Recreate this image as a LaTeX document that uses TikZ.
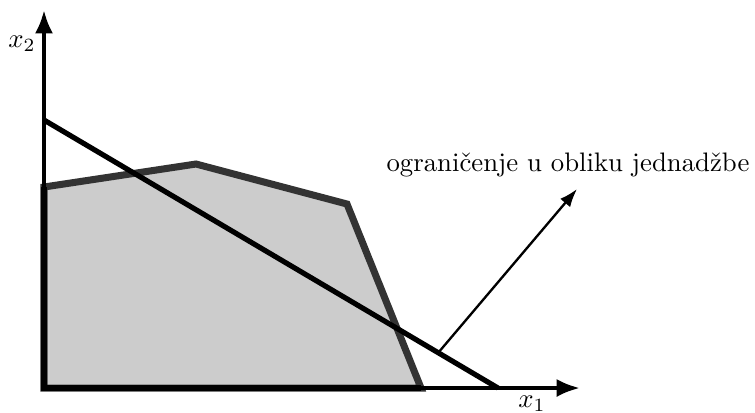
\documentclass[tikz,border=0pt]{standalone}
\usetikzlibrary{arrows.meta}
\begin{document}
\begin{tikzpicture}[x=0.385pt,y=-0.385pt,
  axis/.style={line width=1.6pt,-{Latex[length=9pt,width=7pt]}},
  region/.style={fill=black!20,draw=black!80,line width=2.7pt,line join=miter},
  cline/.style={line width=2pt},
  pointer/.style={line width=0.9pt,-{Latex[length=7pt,width=5pt]}},
  lbl/.style={inner sep=0pt,scale=1.03}]
\useasboundingbox (0,0) rectangle (755,412);
\coordinate (O) at (44,388);
\coordinate (A) at (44,187);
\coordinate (B) at (196,164);
\coordinate (C) at (347,204);
\coordinate (D) at (421,388);
\filldraw[region] (O) -- (A) -- (B) -- (C) -- (D) -- cycle;
\draw[line width=2.2pt] (D) -- (O) -- (A);
\coordinate (Y) at (44,10);
\coordinate (X) at (580,388);
\draw[axis] (O) -- (Y);
\draw[axis] (O) -- (X);
\coordinate (P) at (44,120);
\coordinate (Q) at (498,388);
\draw[cline] (P) -- (Q);
\coordinate (S) at (438,353);
\coordinate (T) at (577,189);
\draw[pointer] (S) -- (T);
\node[lbl] (t) at (568,165) {ograničenje u obliku jednadžbe};
\node[lbl] (x2) at (22,44) {$x_2$};
\node[lbl] (x1) at (532,404) {$x_1$};
\end{tikzpicture}
\end{document}
